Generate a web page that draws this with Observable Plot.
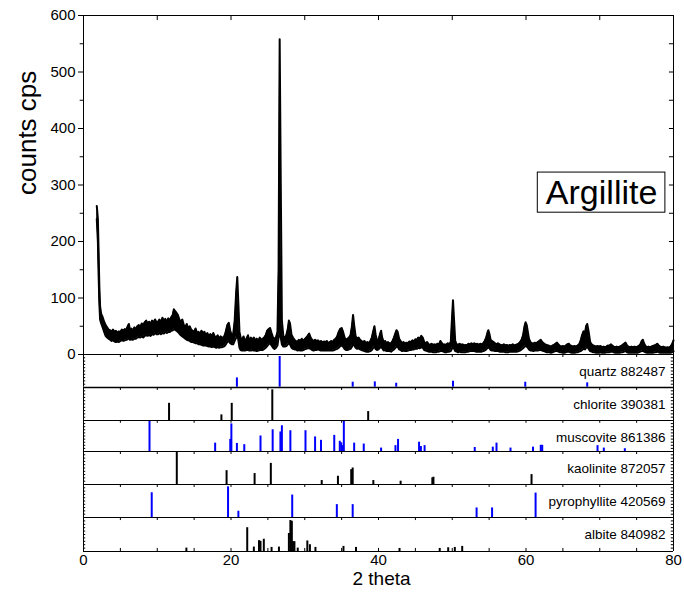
<!DOCTYPE html>
<html><head><meta charset="utf-8">
<script src="https://cdn.jsdelivr.net/npm/d3@7"></script>
<script src="https://cdn.jsdelivr.net/npm/@observablehq/plot@0.6"></script>
<style>
body{margin:0;background:#fff;}
#chart{position:relative;width:684px;height:595px;font-family:Arial,"Liberation Sans",sans-serif;}
#chart svg{position:absolute;left:0;overflow:visible;background:transparent;}
</style></head>
<body><div id="chart"></div>
<script>
// ---- measured XRD scan: 2-theta, upper and lower edge of the noisy trace (counts cps)
const theta = [
 1.80,1.95,2.05,2.15,2.25,2.40,2.60,2.80,3.00,3.20,
 3.40,3.60,3.80,4.00,4.20,4.40,4.60,4.80,5.00,5.20,
 5.40,5.60,5.80,6.00,6.15,6.30,6.50,6.70,6.90,7.10,
 7.30,7.50,7.70,7.90,8.10,8.30,8.50,8.70,8.90,9.10,
 9.30,9.50,9.70,9.90,10.10,10.30,10.50,10.70,10.90,11.10,
 11.30,11.50,11.70,11.90,12.10,12.25,12.40,12.60,12.80,13.00,
 13.20,13.40,13.60,13.80,14.00,14.20,14.40,14.60,14.80,15.00,
 15.20,15.40,15.60,15.80,16.00,16.20,16.40,16.60,16.80,17.00,
 17.20,17.40,17.60,17.80,18.00,18.20,18.40,18.60,18.80,19.00,
 19.20,19.50,19.70,19.90,20.10,20.30,20.50,20.70,20.85,21.00,
 21.15,21.30,21.50,21.70,21.90,22.10,22.30,22.50,22.70,22.90,
 23.10,23.30,23.50,23.70,23.90,24.10,24.30,24.50,24.70,24.90,
 25.10,25.30,25.50,25.70,25.90,26.10,26.30,26.45,26.60,26.75,
 26.90,27.10,27.30,27.50,27.70,27.85,28.00,28.20,28.40,28.60,
 28.80,29.00,29.20,29.40,29.60,29.80,30.00,30.20,30.40,30.60,
 30.80,31.00,31.20,31.40,31.60,31.80,32.00,32.20,32.40,32.60,
 32.80,33.00,33.20,33.40,33.60,33.80,34.00,34.20,34.40,34.60,
 34.80,35.00,35.20,35.40,35.60,35.80,36.00,36.20,36.40,36.55,
 36.70,36.90,37.10,37.30,37.50,37.70,37.90,38.10,38.30,38.50,
 38.70,38.90,39.10,39.30,39.45,39.60,39.80,40.00,40.20,40.35,
 40.50,40.70,40.90,41.10,41.30,41.50,41.70,41.90,42.10,42.30,
 42.45,42.60,42.80,43.00,43.20,43.40,43.60,43.80,44.00,44.20,
 44.40,44.60,44.80,45.00,45.20,45.40,45.60,45.80,46.00,46.20,
 46.40,46.60,46.80,47.00,47.20,47.40,47.60,47.80,48.00,48.20,
 48.40,48.60,48.80,49.00,49.20,49.40,49.60,49.80,49.95,50.10,
 50.25,50.40,50.60,50.80,51.00,51.20,51.40,51.60,51.80,52.00,
 52.20,52.40,52.60,52.80,53.00,53.20,53.40,53.60,53.80,54.00,
 54.20,54.40,54.60,54.80,54.90,55.05,55.20,55.40,55.60,55.80,
 56.00,56.20,56.40,56.60,56.80,57.00,57.20,57.40,57.60,57.80,
 58.00,58.20,58.40,58.60,58.80,59.00,59.20,59.40,59.60,59.80,
 59.95,60.10,60.25,60.40,60.60,60.80,61.00,61.20,61.40,61.60,
 61.80,62.00,62.20,62.40,62.60,62.80,63.00,63.20,63.40,63.60,
 63.80,64.00,64.20,64.40,64.60,64.80,65.00,65.20,65.40,65.60,
 65.80,66.00,66.20,66.40,66.60,66.80,67.00,67.20,67.40,67.60,
 67.80,68.00,68.15,68.30,68.50,68.70,68.90,69.10,69.30,69.50,
 69.70,69.90,70.10,70.30,70.50,70.70,70.90,71.10,71.30,71.50,
 71.70,71.90,72.10,72.30,72.50,72.70,72.90,73.10,73.30,73.50,
 73.70,73.90,74.10,74.30,74.50,74.70,74.90,75.10,75.30,75.50,
 75.70,75.85,76.00,76.20,76.40,76.60,76.80,77.00,77.20,77.40,
 77.60,77.80,78.00,78.20,78.40,78.60,78.80,79.00,79.20,79.40,
 79.60,79.80,80.00];
const countsHigh = [
 263,240,180,120,85,72,66,58,52,48,
 44,43,40,44,40,42,38,41,40,44,
 42,45,44,50,54,44,46,42,48,45,
 50,52,48,55,52,57,60,55,58,54,
 60,56,62,57,58,62,56,65,60,63,
 58,64,60,66,70,80,77,74,70,62,
 58,62,52,48,54,46,50,44,42,40,
 46,38,40,36,42,38,40,34,38,32,
 36,32,38,32,30,34,28,32,30,30,
 36,52,56,42,34,36,60,110,137,90,
 40,30,25,32,24,28,34,24,30,26,
 30,25,28,24,30,26,28,30,34,42,
 45,47,38,30,28,30,40,150,558,300,
 60,32,30,34,45,60,55,35,30,26,
 24,22,26,24,28,24,27,30,33,37,
 30,26,24,26,24,25,22,24,21,23,
 22,24,20,22,24,22,26,28,32,40,
 45,47,40,30,26,28,30,34,50,70,
 52,32,28,30,26,24,22,24,20,22,
 20,24,30,42,50,36,24,26,36,42,
 30,22,24,20,22,19,20,24,30,38,
 43,40,28,24,20,22,19,21,20,23,
 22,25,23,27,26,30,28,33,30,22,
 20,22,18,17,19,17,18,17,19,18,
 24,20,17,18,17,20,18,22,60,96,
 60,24,18,17,19,17,18,16,17,16,
 19,18,20,18,20,18,19,17,19,18,
 20,24,30,40,43,36,26,24,22,20,
 18,20,18,17,16,18,16,17,15,17,
 16,18,16,17,18,19,22,26,34,50,
 57,52,40,28,22,20,19,21,20,22,
 24,26,22,20,18,17,16,15,14,16,
 17,19,21,18,15,14,15,14,16,18,
 19,16,15,14,15,14,16,18,24,34,
 41,38,50,54,40,22,18,16,15,14,
 15,14,15,13,14,13,14,16,15,18,
 16,14,13,14,13,14,15,17,19,21,
 16,14,13,14,13,14,13,14,15,18,
 24,26,20,15,13,14,13,14,15,16,
 17,19,16,14,13,14,13,12,13,12,
 14,18,25];
const countsLow = [
 240,200,140,90,62,55,48,40,33,30,
 28,26,24,25,23,22,23,22,24,25,
 24,25,26,27,30,26,27,26,28,28,
 30,31,30,32,30,33,34,33,35,33,
 36,35,38,36,36,38,36,38,37,40,
 38,40,40,42,43,45,44,42,40,37,
 34,32,30,28,26,25,24,22,22,21,
 20,20,18,18,17,16,16,16,15,14,
 14,13,14,13,12,13,12,13,13,14,
 16,22,24,20,18,18,24,30,40,25,
 12,8,7,7,7,8,8,7,7,8,
 7,7,6,7,8,8,8,10,12,15,
 18,20,16,12,10,12,16,30,40,30,
 18,14,14,15,18,20,18,12,10,9,
 9,7,8,7,7,8,9,10,11,11,
 10,8,7,8,8,9,8,7,7,7,
 7,7,7,7,7,7,8,9,10,12,
 15,16,14,10,8,8,9,10,14,20,
 16,12,10,11,9,8,7,6,5,5,
 5,6,8,12,14,10,8,9,12,15,
 11,7,8,6,6,6,5,7,9,12,
 14,14,9,8,6,7,6,6,7,8,
 8,9,9,10,10,12,11,13,12,8,
 7,6,5,5,5,4,4,4,5,5,
 6,6,5,4,4,5,5,6,10,14,
 10,6,5,4,5,4,4,4,4,5,
 5,6,6,6,6,5,5,5,5,5,
 6,7,9,12,13,11,8,7,7,6,
 6,6,5,5,5,5,4,4,4,5,
 5,5,5,5,5,6,7,9,11,14,
 15,14,12,9,7,7,6,7,7,7,
 8,8,7,6,5,4,4,4,3,4,
 5,6,6,5,4,4,3,3,4,5,
 5,4,3,3,3,4,4,5,6,8,
 10,9,12,14,10,6,5,4,4,3,
 3,3,4,3,3,3,4,4,4,5,
 5,4,3,3,3,3,4,4,5,6,
 4,3,3,3,3,3,3,3,4,5,
 6,7,5,4,3,3,3,3,3,4,
 4,5,4,3,3,3,3,3,3,3,
 3,4,6];

// ---- reference stick patterns (2-theta position, relative intensity %)
const quartzPos = [20.8, 26.6, 36.5, 39.5, 42.4, 50.1, 59.9, 68.3];
const quartzInt = [29, 94, 16, 17, 13, 19, 16, 14];
const chloritePos = [11.6, 18.7, 20.1, 25.6, 38.6];
const chloriteInt = [52, 17, 52, 93, 27];
const muscovitePos = [8.95,17.85,19.9,20.05,20.8,21.8,24.0,25.65,26.7,26.9,
  28.05,30.1,31.4,32.2,34.0,34.75,34.95,35.15,35.3,36.7,
  38.0,40.35,42.3,42.65,45.5,45.75,46.25,53.05,55.5,56.0,
  57.9,60.95,62.0,62.2,69.7,70.55,73.4];
const muscoviteInt = [100,27,39,89,26,22,50,70,63,83,
  67,67,47,36,52,33,28,19,98,27,
  24,11,19,39,30,16,19,13,14,27,
  11,14,20,20,19,11,9];
const kaolinitePos = [12.65, 19.4, 23.2, 25.4, 32.3, 34.5, 36.3, 36.5, 39.3, 43.0, 47.3, 47.45, 60.75];
const kaoliniteInt = [100, 42, 33, 64, 12, 25, 45, 50, 12, 10, 20, 22, 30];
const pyrophyllitePos = [9.25, 19.6, 21.0, 28.3, 34.35, 36.5, 53.3, 55.4, 61.3];
const pyrophylliteInt = [75, 93, 19, 68, 39, 39, 29, 29, 74];
const albitePos = [13.95,22.2,23.1,23.8,24.0,24.45,25.5,26.5,27.85,28.05,
  28.25,28.4,28.6,29.05,30.35,30.7,31.45,35.25,36.95,42.85,
  48.3,49.45,50.35,51.35];
const albiteInt = [10,70,13,32,30,36,12,13,53,91,
  89,29,29,10,31,20,12,15,12,9,
  9,11,12,15];

const phaseNames = ["quartz 882487","chlorite 390381","muscovite 861386","kaolinite 872057","pyrophyllite 420569","albite 840982"];
const phasePos = [quartzPos, chloritePos, muscovitePos, kaolinitePos, pyrophyllitePos, albitePos];
const phaseInt = [quartzInt, chloriteInt, muscoviteInt, kaoliniteInt, pyrophylliteInt, albiteInt];
const phaseColors = ["#0000ff","#000000","#0000ff","#000000","#0000ff","#000000"];

const xTicks = [0, 20, 40, 60, 80];
const yTicks = [0, 100, 200, 300, 400, 500, 600];
const sampleName = "Argillite";
const xLabel = "2 theta";
const yLabel = "counts cps";

// ---- layout
const W = 684, ML = 83, MR = 11;
const FONT = 'Arial, "Liberation Sans", sans-serif';
const panelEdges = [354, 387, 420, 451, 484, 517, 551];
const chart = document.getElementById("chart");
const baseStyle = {fontFamily: FONT, fontSize: "15px", color: "#000", background: "transparent", overflow: "visible"};

const scan = theta.map((t, i) => ({t, hi: countsHigh[i], lo: countsLow[i]}));

const main = Plot.plot({
  width: W, height: panelEdges[0] + 4, marginLeft: ML, marginRight: MR, marginTop: 15, marginBottom: 4,
  x: {domain: [0, 80], axis: null},
  y: {domain: [0, 600]},
  style: baseStyle,
  marks: [
    Plot.areaY(scan, {x: "t", y1: "lo", y2: "hi", fill: "#000"}),
    Plot.lineY(scan, {x: "t", y: "hi", stroke: "#000", strokeWidth: 2}),
    Plot.lineY(scan, {x: "t", y: "lo", stroke: "#000", strokeWidth: 2}),
    Plot.axisY({ticks: yTicks, tickSize: 5, tickPadding: 3, fontSize: 15, label: null}),
    Plot.ruleY(d3.range(50, 600, 100), {x1: 0, x2: -0.45, stroke: "#000"}),
    Plot.ruleY(d3.range(50, 600, 50), {x1: 80, x2: 79.45, stroke: "#000"}),
    Plot.ruleX(d3.range(10, 80, 10), {y1: 600, y2: 591, stroke: "#000"}),
    Plot.ruleX([0, 80], {stroke: "#000"}),
    Plot.ruleY([600], {stroke: "#000"}),
    Plot.text([yLabel], {frameAnchor: "left", rotate: -90, dx: -56, dy: 10, fontSize: 26, fill: "#000"}),
    Plot.rect([sampleName], {x1: 61.6, x2: 78.9, y1: 251, y2: 322, fill: "#fff", stroke: "#000"}),
    Plot.text([sampleName], {x: 70.25, y: 286.5, fontSize: 34, fill: "#000"})
  ]
});
main.style.top = "0px";
chart.appendChild(main);

phaseNames.forEach((name, k) => {
  const top = panelEdges[k], bottom = panelEdges[k + 1];
  const last = k === phaseNames.length - 1;
  const mb = last ? 44 : 0;
  const sticks = phasePos[k].map((p, i) => ({p, v: phaseInt[k][i]}));
  const marks = [
    Plot.ruleX(sticks, {x: "p", y1: 0, y2: "v", stroke: phaseColors[k], strokeWidth: 2}),
    Plot.ruleX(d3.range(5, 80, 5), {y1: 100, y2: 91, stroke: "#000"}),
    Plot.ruleY(d3.range(10, 100, 10), {x1: 0, x2: 0.3, stroke: "#000"}),
    Plot.ruleY(d3.range(10, 100, 10), {x1: 80, x2: 79.7, stroke: "#000"}),
    Plot.ruleX([0, 80], {stroke: "#000"}),
    Plot.ruleY([100], {stroke: "#000"}),
    Plot.ruleY([0], {stroke: k === 0 ? "#808080" : "#000", strokeWidth: k === 0 ? 2 : 1}),
    Plot.text([name], {frameAnchor: "top-right", dx: -8, dy: 12, lineAnchor: "top", fontSize: 13.5, fill: "#000"})
  ];
  if (last) {
    marks.push(Plot.axisX({ticks: xTicks, tickSize: 0, tickPadding: 3, fontSize: 15, label: null}));
    marks.push(Plot.ruleX(d3.range(5, 80, 5), {y1: 0, y2: 9, stroke: "#000"}));
    marks.push(Plot.text([xLabel], {frameAnchor: "bottom", dx: 3, dy: 33, fontSize: 19, fill: "#000"}));
  }
  const p = Plot.plot({
    width: W, height: (bottom - top) + mb, marginLeft: ML, marginRight: MR, marginTop: 0, marginBottom: mb,
    x: {domain: [0, 80], axis: last ? undefined : null},
    y: {domain: [0, 100], axis: null},
    style: baseStyle,
    marks
  });
  p.style.top = top + "px";
  chart.appendChild(p);
});
</script>
</body></html>
